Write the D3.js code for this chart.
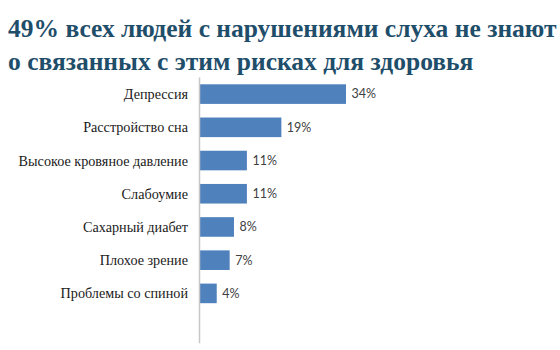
<!DOCTYPE html>
<html>
<head>
<meta charset="utf-8">
<script src="https://cdn.jsdelivr.net/npm/d3@7"></script>
<style>
  html, body { margin: 0; padding: 0; background: #fff; }
  svg { display: block; }
</style>
</head>
<body>
<svg id="chart" width="560" height="350"></svg>
<script>
// Health risks linked to hearing loss, share of respondents unaware
const titleLines = [
  "49% всех людей с нарушениями слуха не знают",
  "о связанных с этим рисках для здоровья"
];
const categories = [
  "Депрессия",
  "Расстройство сна",
  "Высокое кровяное давление",
  "Слабоумие",
  "Сахарный диабет",
  "Плохое зрение",
  "Проблемы со спиной"
];
const values = [34, 19, 11, 11, 8, 7, 4];

const serif = '"Liberation Serif"';
const sans = 'Lato';

const svg = d3.select("#chart");

// Title: two bold serif lines; the first one spans the width of the page
const title = svg.append("g").attr("class", "title");
const titleText = title.selectAll("text")
  .data(titleLines)
  .join("text")
  .attr("x", 8)
  .attr("y", (d, i) => 37 + i * 33)
  .style("font-family", serif)
  .style("font-weight", "bold")
  .style("font-size", "25.5px")
  .attr("fill", "#1f4e6b")
  .text(d => d);

// Spread letters slightly so the first line reaches the right margin
{
  const first = titleText.nodes()[0];
  const w = first.getComputedTextLength();
  const n = titleLines[0].length;
  const ls = Math.max(0, (545 - w) / (n - 1));
  titleText.style("letter-spacing", ls + "px");
}

// Scales
const axisX = 199.5;
const x = d3.scaleLinear().domain([0, 34]).range([axisX, 346]);
const y = d3.scaleBand()
  .domain(categories)
  .range([77.5, 310])
  .paddingInner(0.41)
  .paddingOuter(0.205);

// Bars
svg.append("g")
  .selectAll("rect")
  .data(values)
  .join("rect")
  .attr("x", x(0))
  .attr("y", (d, i) => y(categories[i]))
  .attr("width", d => x(d) - x(0))
  .attr("height", y.bandwidth())
  .attr("fill", "#4f81bd");

// Vertical category axis line
svg.append("line")
  .attr("x1", axisX).attr("x2", axisX)
  .attr("y1", y.range()[0]).attr("y2", y.range()[1] + y.step())
  .attr("stroke", "#c8c8c8")
  .attr("stroke-width", 1.5);

// Category labels
svg.append("g")
  .selectAll("text")
  .data(categories)
  .join("text")
  .attr("x", 188)
  .attr("y", d => y(d) + y.bandwidth() / 2)
  .attr("dy", "0.35em")
  .attr("text-anchor", "end")
  .style("font-family", serif)
  .style("font-size", "14.2px")
  .attr("fill", "#1a1a1a")
  .text(d => d);

// Value labels
svg.append("g")
  .selectAll("text")
  .data(values)
  .join("text")
  .attr("x", d => x(d) + 5.5)
  .attr("y", (d, i) => y(categories[i]) + y.bandwidth() / 2)
  .attr("dy", "0.35em")
  .style("font-family", sans)
  .style("font-size", "12.5px")
  .attr("fill", "#404040")
  .text(d => d + "%");
</script>
</body>
</html>
